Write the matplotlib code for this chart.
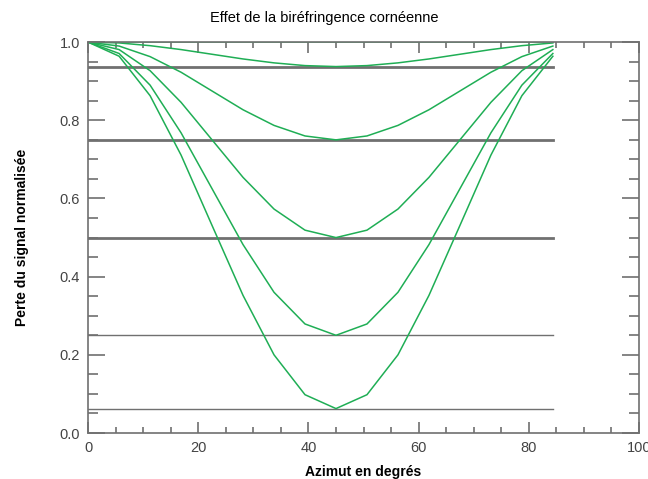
import numpy as np
import matplotlib.pyplot as plt

plt.rcParams['font.family'] = ['Liberation Sans', 'DejaVu Sans']

# azimut (degrés) des points calculés
azimut = [0, 5.625, 11.25, 16.875, 22.5, 28.125, 33.75, 39.375, 45,
          50.625, 56.25, 61.875, 67.5, 73.125, 78.75, 84.375]

# pertes normalisées (une courbe par biréfringence)
perte_0 = [1.0] * 16
perte_1 = [1.0, 0.998, 0.991, 0.981, 0.969, 0.957, 0.947, 0.940, 0.9375,
           0.940, 0.947, 0.957, 0.969, 0.981, 0.991, 0.998]
perte_2 = [1.0, 0.990, 0.963, 0.923, 0.875, 0.827, 0.787, 0.760, 0.75,
           0.760, 0.787, 0.827, 0.875, 0.923, 0.963, 0.990]
perte_3 = [1.0, 0.981, 0.927, 0.846, 0.75, 0.654, 0.573, 0.519, 0.5,
           0.519, 0.573, 0.654, 0.75, 0.846, 0.927, 0.981]
perte_4 = [1.0, 0.971, 0.890, 0.768, 0.625, 0.482, 0.360, 0.279, 0.25,
           0.279, 0.360, 0.482, 0.625, 0.768, 0.890, 0.971]
perte_5 = [1.0, 0.964, 0.863, 0.711, 0.531, 0.352, 0.200, 0.098, 0.0625,
           0.098, 0.200, 0.352, 0.531, 0.711, 0.863, 0.964]
courbes = [perte_0, perte_1, perte_2, perte_3, perte_4, perte_5]

# niveaux minimaux (lignes horizontales grises)
niveaux_epais = [0.9375, 0.75, 0.5]
niveaux_fins = [0.25, 0.0625]

gris = '#707070'
vert = '#1fae55'

fig = plt.figure(figsize=(6.48, 4.79), dpi=100)
ax = fig.add_axes([0.136, 0.096, 0.850, 0.816])

for y in niveaux_epais:
    ax.plot([azimut[0], azimut[-1]], [y, y], color=gris, lw=2.0, zorder=1)
for y in niveaux_fins:
    ax.plot([azimut[0], azimut[-1]], [y, y], color=gris, lw=1.0, zorder=1)

for c in courbes:
    ax.plot(azimut, c, color=vert, lw=1.1, zorder=2)

ax.set_xlim(0, 100)
ax.set_ylim(0, 1.0)
ax.set_xticks([0, 20, 40, 60, 80, 100])
ax.set_xticks(np.arange(0, 101, 5), minor=True)
ax.set_yticks([0, 0.2, 0.4, 0.6, 0.8, 1.0])
ax.set_yticks(np.arange(0, 1.001, 0.05), minor=True)
ax.set_yticklabels(['0.0', '0.2', '0.4', '0.6', '0.8', '1.0'])

ax.tick_params(which='both', direction='in', top=True, right=True,
               color=gris, labelcolor='#444444', labelsize=10.5, pad=6)
ax.tick_params(axis='y', which='major', length=12, width=1.2)
ax.tick_params(axis='y', which='minor', length=7, width=1.2)
ax.tick_params(axis='x', which='major', length=8, width=1.2)
ax.tick_params(axis='x', which='minor', length=4, width=1.2)
for s in ax.spines.values():
    s.set_color(gris)
    s.set_linewidth(1.2)

fig.text(0.5, 0.963, 'Effet de la biréfringence cornéenne', fontsize=10.5,
         ha='center', va='center')
ax.set_xlabel('Azimut en degrés', fontsize=10, fontweight='bold', labelpad=7)
ax.set_ylabel('Perte du signal normalisée', fontsize=10, fontweight='bold', labelpad=22)

fig.savefig('out.png', dpi=100)
